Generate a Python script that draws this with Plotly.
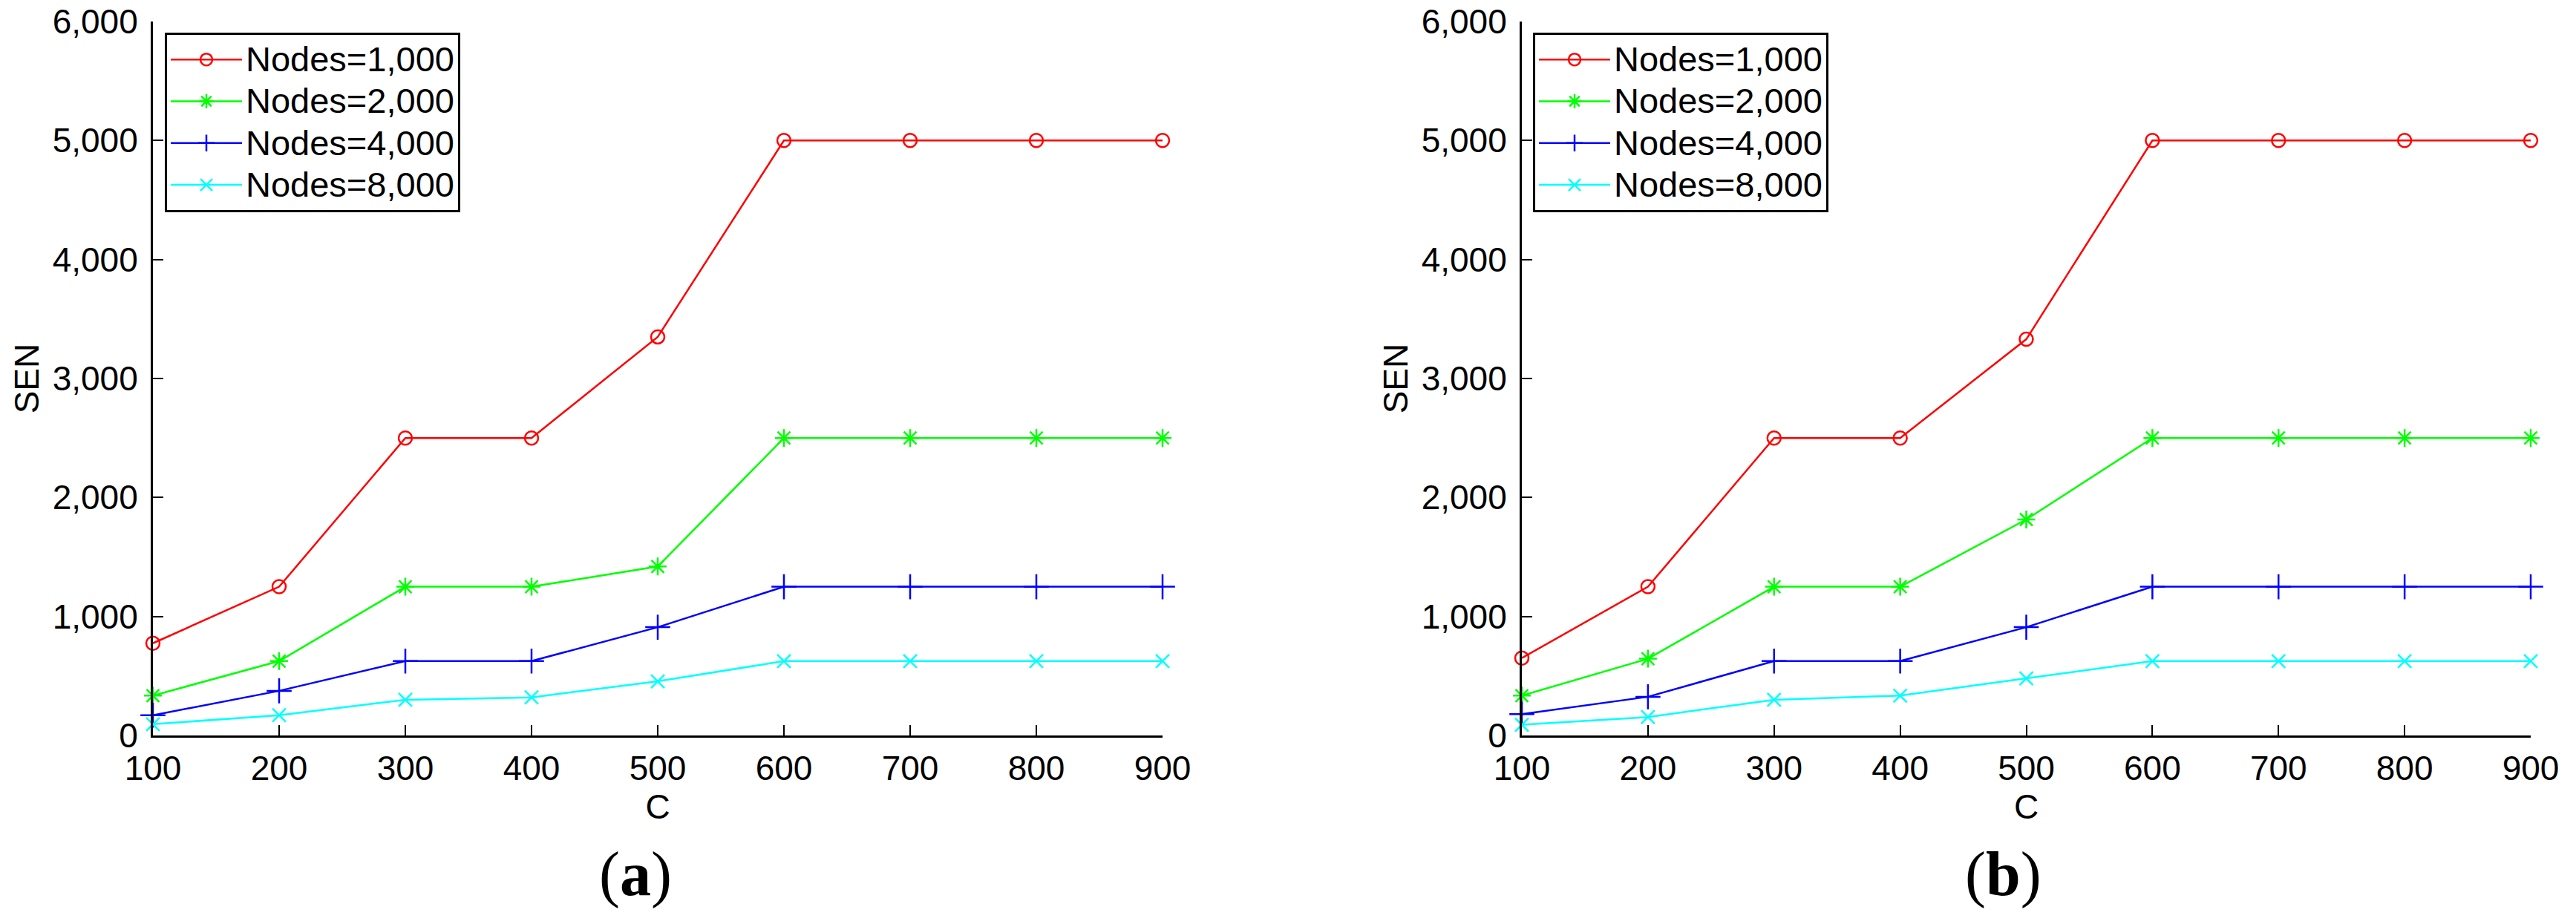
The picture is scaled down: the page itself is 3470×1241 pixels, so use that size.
import plotly.graph_objects as go

# x values (C) shared by both panels
c_values = [100, 200, 300, 400, 500, 600, 700, 800, 900]

# panel (a)
a_nodes_1000 = [775, 1250, 2500, 2500, 3350, 5000, 5000, 5000, 5000]
a_nodes_2000 = [335, 625, 1250, 1250, 1420, 2500, 2500, 2500, 2500]
a_nodes_4000 = [170, 375, 625, 625, 910, 1250, 1250, 1250, 1250]
a_nodes_8000 = [95, 170, 300, 320, 455, 625, 625, 625, 625]

# panel (b)
b_nodes_1000 = [650, 1250, 2500, 2500, 3330, 5000, 5000, 5000, 5000]
b_nodes_2000 = [335, 645, 1250, 1250, 1815, 2500, 2500, 2500, 2500]
b_nodes_4000 = [180, 325, 625, 625, 910, 1250, 1250, 1250, 1250]
b_nodes_8000 = [90, 155, 300, 335, 480, 625, 625, 625, 625]

series_names = ["Nodes=1,000", "Nodes=2,000", "Nodes=4,000", "Nodes=8,000"]
panel_labels = ["(<b>a</b>)", "(<b>b</b>)"]

W, H = 3470, 1241
colors = ["#ff0000", "#00ff00", "#0000ff", "#00ffff"]
symbols = ["circle-open", "asterisk-open", "cross-thin-open", "x-thin-open"]
sizes = [18, 20, 24, 18]
font = "Liberation Sans, Arial, sans-serif"
fs = 46

fig = go.Figure()

panels = [
    ("x", "y", "legend", [a_nodes_1000, a_nodes_2000, a_nodes_4000, a_nodes_8000]),
    ("x2", "y2", "legend2", [b_nodes_1000, b_nodes_2000, b_nodes_4000, b_nodes_8000]),
]
for xa, ya, lg, data in panels:
    for name, vals, col, sym, sz in zip(series_names, data, colors, symbols, sizes):
        fig.add_trace(go.Scatter(
            x=c_values, y=vals, mode="lines+markers",
            # bigger legend text than the row height the legend font gives
            name="<span style='font-size:47px'>%s</span>" % name,
            xaxis=xa, yaxis=ya, legend=lg, cliponaxis=False,
            line=dict(color=col, width=2.5),
            marker=dict(symbol=sym, size=sz, color=col, line=dict(color=col, width=2.5)),
        ))

# plot areas in pixels
dom_a = [206 / W, 1566 / W]
dom_b = [2050 / W, 3409 / W]
ydom = [1 - 991 / H, 1 - 29 / H]

xcommon = dict(range=[100, 900], dtick=100, tick0=100, ticks="inside", ticklen=14,
               tickwidth=2, tickcolor="black", showline=True, linecolor="black",
               linewidth=3, showgrid=False, zeroline=False, ticklabelstandoff=2,
               automargin=False,
               tickfont=dict(family=font, size=fs, color="black"),
               title=dict(text="C", font=dict(family=font, size=fs, color="black"), standoff=4))
ycommon = dict(range=[0, 6000], dtick=1000, ticks="inside", ticklen=14, tickwidth=2,
               tickcolor="black", showline=True, linecolor="black", linewidth=3,
               showgrid=False, zeroline=False, tickformat=",d", ticklabelstandoff=8,
               automargin=False,
               tickfont=dict(family=font, size=fs, color="black"),
               title=dict(text="SEN", font=dict(family=font, size=fs, color="black"), standoff=4))

legcommon = dict(
    xanchor="left", yanchor="top", bgcolor="white", bordercolor="black", borderwidth=3,
    font=dict(family=font, size=41, color="black"), itemwidth=96, tracegroupgap=0,
)

fig.update_layout(
    template="none",
    width=W, height=H,
    margin=dict(l=0, r=0, t=0, b=0, autoexpand=False),
    paper_bgcolor="white", plot_bgcolor="white",
    xaxis=dict(domain=dom_a, anchor="y", **xcommon),
    yaxis=dict(domain=ydom, anchor="x", **ycommon),
    xaxis2=dict(domain=dom_b, anchor="y2", **xcommon),
    yaxis2=dict(domain=ydom, anchor="x2", **ycommon),
    legend=dict(x=222 / W, y=1 - 44 / H, **legcommon),
    legend2=dict(x=2065 / W, y=1 - 44 / H, **legcommon),
)

for label, xc in zip(panel_labels, [856, 2698]):
    fig.add_annotation(
        text=label, x=xc / W, y=1 - 1178 / H, xref="paper", yref="paper",
        xanchor="center", yanchor="middle", showarrow=False,
        font=dict(family="Liberation Serif, Times New Roman, serif", size=84, color="black"),
    )

# drop the default page margin so the figure sits at the window's top-left corner
fig.write_html("out.html", config={"displayModeBar": False},
               post_script="document.body.style.margin='0';")
